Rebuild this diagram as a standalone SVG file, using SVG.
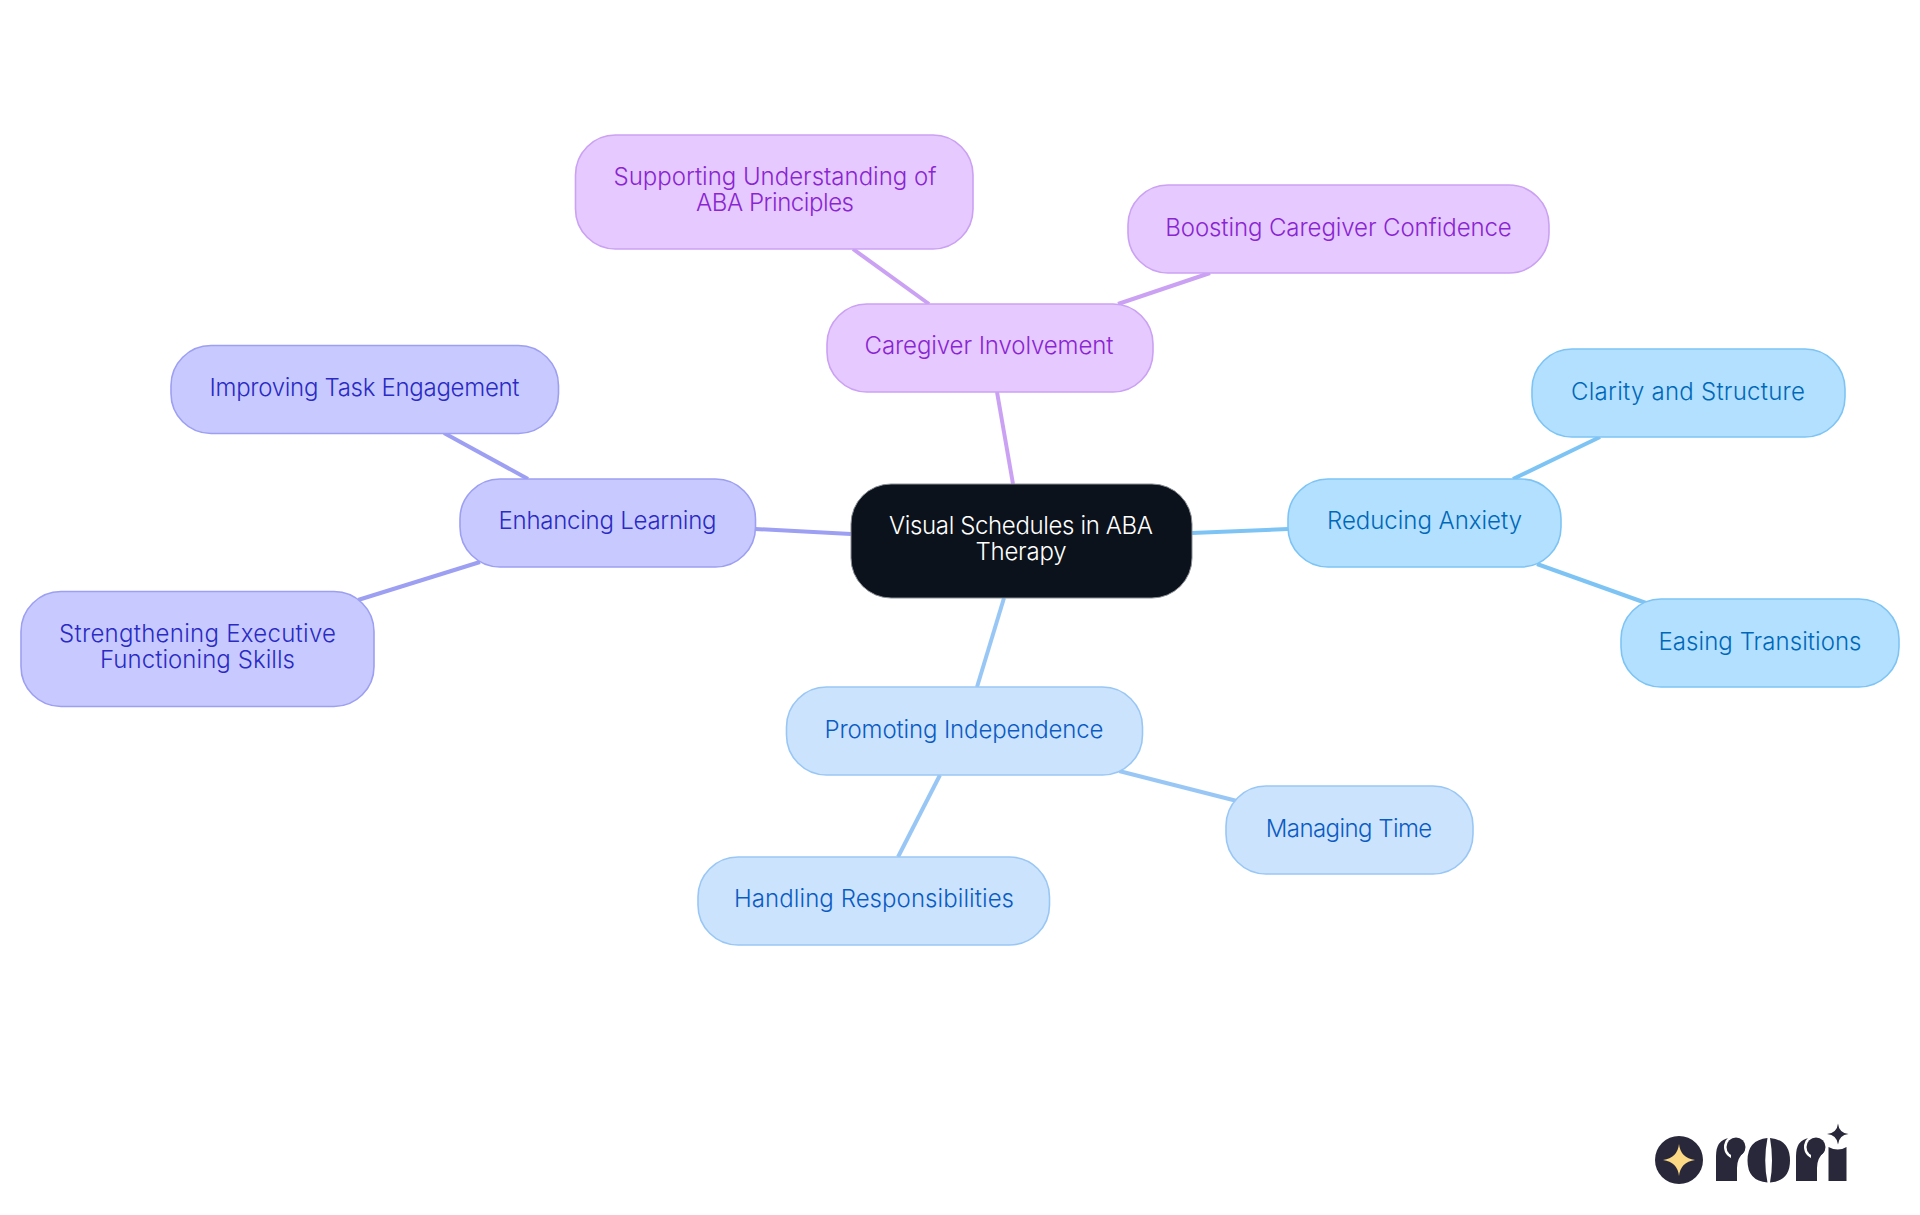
<svg xmlns="http://www.w3.org/2000/svg" width="1920" height="1215" viewBox="0 0 1920 1215">
<style>
text{font-family:"Inter","Noto Sans","Liberation Sans",sans-serif;font-size:24px;font-weight:350;text-anchor:middle}
.n{stroke-width:1.6}
.e{stroke-width:4;fill:none}
.a rect{fill:#b3e0ff;stroke:#7dc4f5}.a text{fill:#0068b8}
.b rect{fill:#cce3fd;stroke:#99c7f5}.b text{fill:#0a5cc4}
.c rect{fill:#c8caff;stroke:#9d9ff2}.c text{fill:#2a2ac4}
.d rect{fill:#e6c9ff;stroke:#cba1f3}.d text{fill:#8a25d2}
.ea{stroke:#7dc4f5}.eb{stroke:#99c7f5}.ec{stroke:#9d9ff2}.ed{stroke:#cba1f3}
.lg{fill:#29283a}
</style>
<rect width="1920" height="1215" fill="#fff"/>
<g id="connectors">
<line class="e ea" x1="1192" y1="533" x2="1288" y2="529"/>
<line class="e ea" x1="1513" y1="479" x2="1600" y2="437"/>
<line class="e ea" x1="1537" y1="564" x2="1646" y2="603"/>
<line class="e eb" x1="1004" y1="598" x2="977" y2="687"/>
<line class="e eb" x1="1119" y1="771" x2="1237" y2="801"/>
<line class="e eb" x1="940" y1="775" x2="898" y2="857"/>
<line class="e ec" x1="851" y1="534" x2="755" y2="529"/>
<line class="e ec" x1="528" y1="479" x2="444" y2="433"/>
<line class="e ec" x1="480" y1="562" x2="358" y2="600"/>
<line class="e ed" x1="1013" y1="484" x2="997" y2="392"/>
<line class="e ed" x1="929" y1="304" x2="853" y2="249"/>
<line class="e ed" x1="1118" y1="304" x2="1210" y2="273"/>
</g>
<g id="root"><rect x="851" y="484" width="341" height="114" rx="40" fill="#0b121b" stroke="#8a8f96" stroke-width="1"/><text x="1021" y="534" fill="#fff" textLength="264">Visual Schedules in ABA</text><text x="1021" y="560" fill="#fff" textLength="91">Therapy</text></g>
<g id="reducing" class="a"><rect class="n" x="1288" y="479" width="273" height="88" rx="40"/><text x="1424.500" y="529" textLength="195">Reducing Anxiety</text></g>
<g id="clarity" class="a"><rect class="n" x="1532" y="349" width="313" height="88" rx="40"/><text x="1688" y="400" textLength="234">Clarity and Structure</text></g>
<g id="easing" class="a"><rect class="n" x="1621" y="599" width="278" height="88" rx="40"/><text x="1760" y="650" textLength="203">Easing Transitions</text></g>
<g id="promoting" class="b"><rect class="n" x="786.500" y="687" width="356" height="88" rx="40"/><text x="964" y="738" textLength="279">Promoting Independence</text></g>
<g id="managing" class="b"><rect class="n" x="1226" y="786" width="247" height="88" rx="40"/><text x="1349" y="837" textLength="166.500">Managing Time</text></g>
<g id="handling" class="b"><rect class="n" x="698" y="857" width="351.500" height="88" rx="40"/><text x="874" y="907" textLength="280">Handling Responsibilities</text></g>
<g id="enhancing" class="c"><rect class="n" x="460" y="479" width="295.500" height="88" rx="40"/><text x="607.500" y="529" textLength="218">Enhancing Learning</text></g>
<g id="improving" class="c"><rect class="n" x="171" y="345.500" width="387.500" height="88" rx="40"/><text x="364.500" y="396" textLength="310">Improving Task Engagement</text></g>
<g id="strengthening" class="c"><rect class="n" x="21" y="591.500" width="353" height="115" rx="40"/><text x="197.500" y="642" textLength="277">Strengthening Executive</text><text x="197.500" y="668" textLength="195">Functioning Skills</text></g>
<g id="caregiver" class="d"><rect class="n" x="827" y="304" width="326" height="88" rx="40"/><text x="989" y="354" textLength="249">Caregiver Involvement</text></g>
<g id="supporting" class="d"><rect class="n" x="575.500" y="135" width="397.500" height="114" rx="40"/><text x="775" y="185" textLength="323">Supporting Understanding of</text><text x="775" y="211" textLength="158">ABA Principles</text></g>
<g id="boosting" class="d"><rect class="n" x="1128" y="185" width="421" height="88" rx="40"/><text x="1338.500" y="236" textLength="346.500">Boosting Caregiver Confidence</text></g>
<g id="logo">
<circle class="lg" cx="1679" cy="1160" r="24"/>
<path d="M1679 1144Q1680.500 1158 1695 1160Q1680.500 1162 1679 1176Q1677.500 1162 1663 1160Q1677.500 1158 1679 1144Z" fill="#fbd985"/>
<g id="logo-r1">
<path class="lg" d="M1716 1181V1156Q1716 1140 1729 1138L1737 1142V1181Z"/>
<circle cx="1736" cy="1147" r="12" fill="#fff"/>
<circle class="lg" cx="1736" cy="1147" r="9.500"/>
<path class="lg" d="M1731 1154V1158.500Q1735 1161 1737 1168Q1737 1158 1744 1152Z"/>
</g>
<path class="lg" d="M1767.500 1138Q1747.500 1140 1747.500 1160.500Q1747.500 1181 1767.500 1182.500Q1763 1160.500 1767.500 1138ZM1770 1138Q1790 1140 1790 1160.500Q1790 1181 1770 1182.500Q1774 1160.500 1770 1138Z"/>
<g id="logo-r2">
<path class="lg" d="M1796 1181V1156Q1796 1140 1809 1138L1817 1142V1181Z"/>
<circle cx="1816" cy="1147" r="12" fill="#fff"/>
<circle class="lg" cx="1816" cy="1147" r="9.500"/>
<path class="lg" d="M1811 1154V1158.500Q1815 1161 1817 1168Q1817 1158 1824 1152Z"/>
</g>
<path class="lg" d="M1828.500 1181V1147Q1838 1152 1846.500 1147V1181Z"/>
<path class="lg" d="M1838 1123.500Q1839 1133 1848.500 1134Q1839 1135 1838 1144.500Q1837 1135 1827 1134Q1837 1133 1838 1123.500Z"/>
</g>
</svg>
